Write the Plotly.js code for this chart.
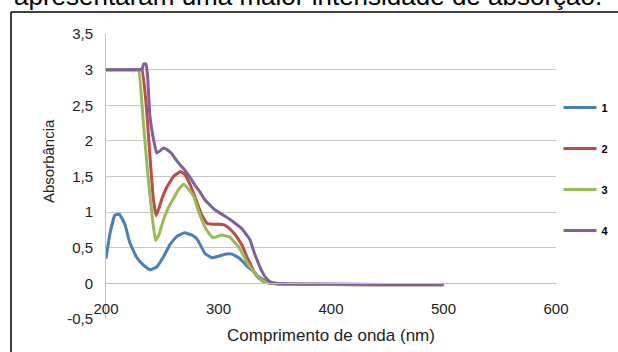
<!DOCTYPE html>
<html>
<head>
<meta charset="utf-8">
<script src="https://cdn.plot.ly/plotly-3.0.1.min.js"></script>
<style>
  html, body { margin: 0; padding: 0; background: #ffffff; }
  #chart { width: 618px; height: 352px; }
</style>
</head>
<body>
<div id="chart"></div>
<script>
// Series names
const seriesNames = ['1', '2', '3', '4'];

// Wavelength (nm) and absorbance for each series
const wl1 = [200, 203.5, 208, 212, 217, 221, 227, 233, 239, 245, 251, 257, 263, 270, 276, 281, 288, 294, 300, 306, 312, 318, 322, 326, 331, 335, 340, 344, 350, 360, 380, 400, 450, 500];
const abs1 = [0.35, 0.70, 0.96, 0.97, 0.82, 0.58, 0.37, 0.26, 0.19, 0.23, 0.37, 0.55, 0.66, 0.71, 0.68, 0.62, 0.42, 0.36, 0.38, 0.41, 0.41, 0.36, 0.30, 0.23, 0.17, 0.10, 0.05, 0.01, -0.005, -0.01, -0.015, -0.015, -0.02, -0.02];

const wl2 = [200, 225, 229, 232, 235.5, 239, 242, 244.5, 247, 250, 254, 260, 266, 270, 275, 279, 285, 290, 295, 300, 305, 309, 314, 318, 322, 325, 329, 332, 336, 341, 345, 350, 360, 400, 450, 500];
const abs2 = [3.0, 3.0, 3.0, 3.0, 2.55, 1.8, 1.2, 0.95, 1.05, 1.2, 1.35, 1.50, 1.57, 1.53, 1.38, 1.22, 0.96, 0.84, 0.83, 0.83, 0.82, 0.78, 0.70, 0.61, 0.50, 0.38, 0.25, 0.15, 0.07, 0.02, 0.005, 0, -0.01, -0.015, -0.02, -0.02];

const wl3 = [200, 222, 226, 229, 233, 237, 241, 244, 247, 251, 256, 261, 265, 269, 273, 278, 283, 289, 295, 303, 310, 314, 318, 322, 326, 332, 338, 343, 350, 360, 400, 450, 500];
const abs3 = [3.0, 3.0, 3.0, 3.0, 2.3, 1.55, 0.95, 0.60, 0.68, 0.89, 1.08, 1.22, 1.33, 1.39, 1.33, 1.22, 0.98, 0.76, 0.64, 0.68, 0.65, 0.58, 0.51, 0.40, 0.28, 0.15, 0.05, 0.01, 0, -0.01, -0.015, -0.02, -0.02];

const wl4 = [200, 225, 229, 232, 233.5, 235.5, 237, 239, 242, 245, 248, 251, 255, 258, 262, 266, 270, 275, 279, 284, 288, 293, 297, 303, 309, 315, 320.6, 325, 328, 332, 335, 338, 342, 346, 350, 360, 400, 450, 500];
const abs4 = [3.0, 3.0, 3.0, 3.0, 3.08, 3.08, 2.9, 2.35, 2.04, 1.83, 1.86, 1.90, 1.87, 1.83, 1.74, 1.66, 1.59, 1.48, 1.38, 1.27, 1.17, 1.09, 1.03, 0.97, 0.91, 0.84, 0.77, 0.68, 0.61, 0.42, 0.30, 0.19, 0.08, 0.02, 0.005, -0.005, -0.01, -0.015, -0.015];

// Tick labels
const xTickVals = [200, 300, 400, 500, 600];
const xTickText = ['200', '300', '400', '500', '600'];
const yTickVals = [-0.5, 0, 0.5, 1, 1.5, 2, 2.5, 3, 3.5];
const yTickText = ['-0,5', '0', '0,5', '1', '1,5', '2', '2,5', '3', '3,5'];

const colors = ['#4a7ebb', '#be4b48', '#98b954', '#7d60a0'];
const xs = [wl1, wl2, wl3, wl4];
const ys = [abs1, abs2, abs3, abs4];

const traces = seriesNames.map((name, i) => ({
  type: 'scatter',
  mode: 'lines',
  name: name,
  legendgroup: 'g' + name,
  x: xs[i],
  y: ys[i],
  line: { color: colors[i], width: 3, shape: 'spline', smoothing: 0.3 },
  hoverinfo: 'x+y+name'
}));

const FONT = 'Liberation Sans, Arial, sans-serif';

const layout = {
  width: 618,
  height: 352,
  margin: { l: 106, r: 62, t: 34, b: 33, pad: 0, autoexpand: false },
  paper_bgcolor: '#ffffff',
  plot_bgcolor: '#ffffff',
  font: { family: FONT, color: '#222222', size: 15 },
  showlegend: true,
  legend: {
    x: 1.0056, xanchor: 'left',
    y: 0.793, yanchor: 'top',
    bgcolor: 'rgba(0,0,0,0)',
    font: { family: FONT, size: 11, color: '#000000', weight: 'bold' },
    tracegroupgap: 22,
    itemwidth: 33
  },
  xaxis: {
    range: [200, 600],
    tickmode: 'array',
    tickvals: xTickVals,
    ticktext: xTickText,
    anchor: 'free',
    position: 0.125,
    showgrid: false,
    zeroline: false,
    showline: true,
    linecolor: '#c0c0c0',
    linewidth: 1,
    ticks: '',
    ticklabelstandoff: 12,
    tickfont: { family: FONT, size: 15, color: '#222222' },
    title: { text: 'Comprimento de onda (nm)', font: { family: FONT, size: 17, color: '#222222' }, standoff: 12 }
  },
  yaxis: {
    range: [-0.5, 3.5],
    tickmode: 'array',
    tickvals: yTickVals,
    ticktext: yTickText,
    showgrid: true,
    gridcolor: '#c8c8c8',
    gridwidth: 1,
    zeroline: false,
    showline: true,
    linecolor: '#c0c0c0',
    linewidth: 1,
    ticks: '',
    ticklabelstandoff: 9,
    tickfont: { family: FONT, size: 15, color: '#222222' }
  },
  annotations: [{
    text: 'apresentaram uma maior intensidade de absorção.',
    xref: 'paper', yref: 'paper',
    x: (12 - 106) / 450, xanchor: 'left',
    y: 1 + (34 + 4) / 285, yanchor: 'middle',
    showarrow: false,
    font: { family: FONT, size: 26, color: '#000000' }
  }, {
    text: 'Absorbância',
    xref: 'paper', yref: 'paper',
    x: (48 - 106) / 450, xanchor: 'center',
    y: (319 - 161) / 285, yanchor: 'middle',
    textangle: -90,
    showarrow: false,
    font: { family: FONT, size: 15, color: '#222222' }
  }],
  shapes: [
    { type: 'line', xref: 'paper', yref: 'paper',
      x0: (11 - 106) / 450, x1: (11 - 106) / 450,
      y0: 1 + (34 - 12) / 285, y1: 1 - (370 - 34) / 285,
      line: { color: '#000000', width: 1.5 } },
    { type: 'line', xref: 'paper', yref: 'paper',
      x0: (11 - 106) / 450, x1: (640 - 106) / 450,
      y0: 1 + (34 - 12) / 285, y1: 1 + (34 - 12) / 285,
      line: { color: '#000000', width: 1.5 } }
  ]
};

Plotly.newPlot('chart', traces, layout, { displayModeBar: false, staticPlot: true });
</script>
</body>
</html>
